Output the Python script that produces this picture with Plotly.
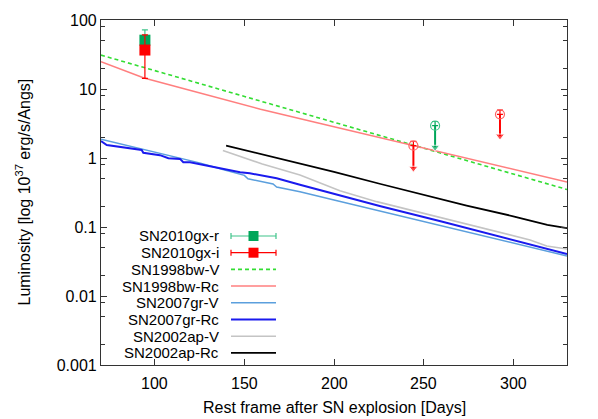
import plotly.graph_objects as go

# ---- data ----
# SN2010gx detections (day, value, +err, -err)
det_days = [94.5]
det_r = [51.0]
det_r_up = [21.0]
det_r_dn = [11.0]
det_i = [36.7]
det_i_up = [24.0]
det_i_dn = [22.4]

# SN2010gx upper limits (day, value, arrow tip)
lim_r_days = [256.4]
lim_r = [2.94]
lim_r_tip = [1.43]
lim_i_days = [244.3, 292.6]
lim_i = [1.51, 4.3]
lim_i_tip = [0.71, 2.08]

bw98_v_days = [70, 100, 150, 200, 250, 300, 330]
bw98_v = [31.0, 18.4, 7.79, 3.29, 1.39, 0.586, 0.35]

bw98_rc_days = [70, 80, 94, 120, 159, 190, 226, 260, 300, 330]
bw98_rc = [24.9, 19.8, 14.4, 9.5, 5.1, 3.28, 1.97, 1.21, 0.68, 0.45]

gr07_v_days = [70, 80, 93.6, 105, 115.9, 125, 138, 145.7, 150, 152, 160, 166, 168,
               181, 200, 226, 260, 300, 330]
gr07_v = [1.87, 1.62, 1.35, 1.15, 0.99, 0.85, 0.68, 0.60, 0.56, 0.50, 0.45, 0.42, 0.38,
          0.325, 0.247, 0.17, 0.104, 0.058, 0.038]

gr07_rc_days = [70, 73.2, 92.7, 93.6, 102.9, 107.6, 114.1, 115.9, 119.7, 138.2, 143.8,
                147.6, 153, 160, 168, 181, 200, 226, 260, 300, 330]
gr07_rc = [1.76, 1.54, 1.31, 1.19, 1.10, 0.99, 0.97, 0.87, 0.87, 0.69, 0.65,
           0.62, 0.60, 0.56, 0.51, 0.41, 0.30, 0.20, 0.12, 0.064, 0.0406]

ap02_v_days = [138, 160, 181, 203.3, 223.8, 250, 274, 295, 309.4, 318.7, 330]
ap02_v = [1.28, 0.82, 0.567, 0.336, 0.233, 0.158, 0.11, 0.08, 0.065, 0.053, 0.048]

ap02_rc_days = [139.8, 160, 181, 200, 226, 250, 274, 300, 319, 330]
ap02_rc = [1.51, 1.13, 0.84, 0.63, 0.42, 0.295, 0.204, 0.143, 0.107, 0.096]

x_ticks = [100, 150, 200, 250, 300]
x_ticktext = ['100', '150', '200', '250', '300']
y_ticks = [0.001, 0.01, 0.1, 1, 10, 100]
y_ticktext = ['0.001', '0.01', '0.1', '1', '10', '100']
y_minor = [m * 10.0 ** e for e in range(-3, 2) for m in (2, 5, 8)]

# colours
GREEN_SQ = '#00a65a'
GREEN_ERR = '#3fc48a'
RED = '#ff0000'
GREEN_DASH = '#33dd33'
PINK = '#ff7f7f'
LIGHTBLUE = '#5b9fdd'
BLUE = '#1a1aee'
GREY = '#c4c4c4'
BLACK = '#000000'
DASH = '4px,3px'

FONT = 'Liberation Sans, Arial, sans-serif'

# the page body has an 8px margin, so the figure is 8px smaller each way
# and its margins are shifted to keep the plot box where the reference has it
W, H = 590, 411
ML, MR, MT, MB = 93, 31, 12, 54
OFF = 8

fig = go.Figure()

curves = [
    (bw98_v_days, bw98_v, GREEN_DASH, 1.6, DASH),
    (bw98_rc_days, bw98_rc, PINK, 1.5, 'solid'),
    (gr07_v_days, gr07_v, LIGHTBLUE, 1.5, 'solid'),
    (gr07_rc_days, gr07_rc, BLUE, 2.0, 'solid'),
    (ap02_v_days, ap02_v, GREY, 1.6, 'solid'),
    (ap02_rc_days, ap02_rc, BLACK, 1.8, 'solid'),
]
for xs, ys, col, w, dash in curves:
    fig.add_trace(go.Scatter(x=xs, y=ys, mode='lines',
                             line=dict(color=col, width=w, dash=dash),
                             hoverinfo='skip'))

# detections
fig.add_trace(go.Scatter(
    x=det_days, y=det_r, mode='markers',
    marker=dict(symbol='square', size=11, color=GREEN_SQ),
    error_y=dict(type='data', symmetric=False, array=det_r_up, arrayminus=det_r_dn,
                 color=GREEN_ERR, thickness=1.2, width=3)))
fig.add_trace(go.Scatter(
    x=det_days, y=det_i, mode='markers',
    marker=dict(symbol='square', size=11, color=RED),
    error_y=dict(type='data', symmetric=False, array=det_i_up, arrayminus=det_i_dn,
                 color=RED, thickness=1.2, width=3)))

# upper limits: arrow shaft + head, open circle with cap
for days, vals, tips, col, ccol in [(lim_r_days, lim_r, lim_r_tip, GREEN_SQ, GREEN_ERR),
                                     (lim_i_days, lim_i, lim_i_tip, RED, '#ff6060')]:
    for d, v, t in zip(days, vals, tips):
        fig.add_trace(go.Scatter(
            x=[d, d], y=[v, t], mode='lines+markers',
            line=dict(color=col, width=2),
            marker=dict(symbol=['circle', 'triangle-down'], size=[0, 8], color=col),
            hoverinfo='skip'))
    fig.add_trace(go.Scatter(
        x=days, y=vals, mode='markers',
        marker=dict(symbol='circle-open', size=9, color=ccol, line=dict(width=1.2)),
        error_y=dict(type='percent', symmetric=False, value=15, valueminus=0,
                     color=col, thickness=1.2, width=3)))


# ---- hand-built legend in gnuplot style (text left, sample right) ----
# positions given in screen pixels of the 598x419 window
def px(x):
    return (x - OFF - ML) / float(W - ML - MR)


def py(y):
    return (H + OFF - MB - y) / float(H - MT - MB)


legend_rows = [
    ('SN2010gx-r', GREEN_SQ, GREEN_ERR, 'marker', 'solid', 1.2),
    ('SN2010gx-i', RED, RED, 'marker', 'solid', 1.2),
    ('SN1998bw-V', GREEN_DASH, GREEN_DASH, 'line', DASH, 1.6),
    ('SN1998bw-Rc', PINK, PINK, 'line', 'solid', 1.5),
    ('SN2007gr-V', LIGHTBLUE, LIGHTBLUE, 'line', 'solid', 1.5),
    ('SN2007gr-Rc', BLUE, BLUE, 'line', 'solid', 2.0),
    ('SN2002ap-V', GREY, GREY, 'line', 'solid', 1.6),
    ('SN2002ap-Rc', BLACK, BLACK, 'line', 'solid', 1.8),
]
shapes = []
annotations = []
for k, (name, col, lcol, kind, dash, w) in enumerate(legend_rows):
    yy = 236 + k * 16.7
    annotations.append(dict(text=name, xref='paper', yref='paper', x=px(221), y=py(yy),
                            xanchor='right', yanchor='middle', showarrow=False,
                            font=dict(size=15, color='black', family=FONT)))
    shapes.append(dict(type='line', xref='paper', yref='paper',
                       x0=px(231), x1=px(276), y0=py(yy), y1=py(yy),
                       line=dict(color=lcol, width=w, dash=dash)))
    if kind == 'marker':
        for xe in (231, 276):
            shapes.append(dict(type='line', xref='paper', yref='paper',
                               x0=px(xe), x1=px(xe), y0=py(yy - 3), y1=py(yy + 3),
                               line=dict(color=lcol, width=1.2)))
        shapes.append(dict(type='rect', xref='paper', yref='paper',
                           x0=px(248.5), x1=px(258.5), y0=py(yy - 5), y1=py(yy + 5),
                           fillcolor=col, line=dict(width=0)))

# x tick labels as text placed on the x data scale
for xv, xt in zip(x_ticks, x_ticktext):
    annotations.append(dict(text=xt, xref='x', yref='paper', x=xv, y=py(383),
                            xanchor='center', yanchor='middle', showarrow=False,
                            font=dict(size=16, color='black', family=FONT)))

annotations.append(dict(text='Luminosity [log 10<sup>37</sup> erg/s/Angs]',
                        xref='paper', yref='paper', x=px(23), y=0.5, textangle=-90,
                        xanchor='center', yanchor='middle', showarrow=False,
                        font=dict(size=16, color='black', family=FONT)))
annotations.append(dict(text='Rest frame after SN explosion [Days]',
                        xref='paper', yref='paper', x=0.5, y=py(407),
                        xanchor='center', yanchor='middle', showarrow=False,
                        font=dict(size=16, color='black', family=FONT)))

axis_col = '#333333'
fig.update_layout(
    width=W, height=H,
    margin=dict(l=ML, r=MR, t=MT, b=MB),
    paper_bgcolor='white', plot_bgcolor='white',
    showlegend=False,
    font=dict(family=FONT, size=16, color='black'),
    shapes=shapes, annotations=annotations,
)
fig.update_xaxes(range=[70, 330], tickmode='array', tickvals=x_ticks,
                 showticklabels=False,
                 ticks='inside', ticklen=6,
                 tickcolor=axis_col, showline=True, linecolor=axis_col, linewidth=1.2,
                 mirror='allticks', showgrid=False, zeroline=False, automargin=False)
fig.update_yaxes(type='log', range=[-3, 2], tickmode='array', tickvals=y_ticks,
                 ticktext=y_ticktext,
                 ticks='inside', ticklen=6, tickcolor=axis_col,
                 minor=dict(tickvals=y_minor, ticks='inside', ticklen=3.5, tickcolor=axis_col),
                 showline=True, linecolor=axis_col, linewidth=1.2,
                 mirror='allticks', showgrid=False, zeroline=False, automargin=False,
                 tickfont=dict(size=16, family=FONT))

fig.write_html("out.html")
